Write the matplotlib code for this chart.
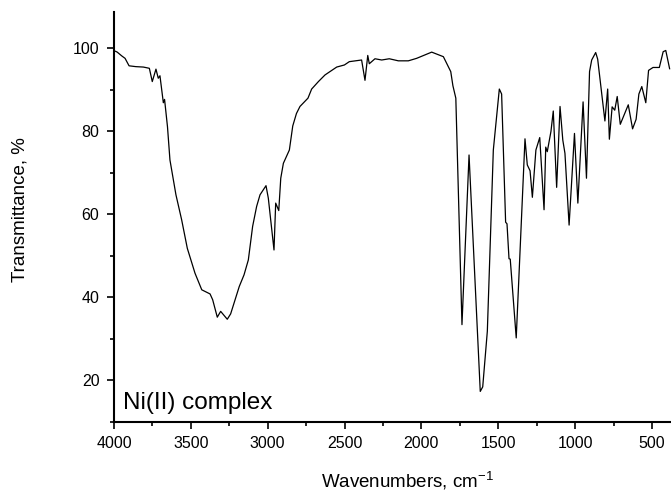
import matplotlib
matplotlib.use("Agg")
import matplotlib.pyplot as plt
from matplotlib.ticker import MultipleLocator

plt.rcParams['font.family'] = ['Liberation Sans', 'DejaVu Sans']
plt.rcParams['mathtext.default'] = 'regular'

wavenumber = [3990, 3979, 3950, 3928, 3902, 3858, 3809, 3770, 3751, 3727, 3712, 3701,
              3679, 3671, 3652, 3636, 3597, 3560, 3523, 3473, 3429, 3375, 3358, 3328,
              3306, 3263, 3241, 3185, 3154, 3126, 3098, 3072, 3050, 3011, 2996, 2959,
              2948, 2928, 2915, 2898, 2859, 2837, 2813, 2790, 2738, 2714, 2670, 2627,
              2551, 2501, 2469, 2389, 2367, 2349, 2339, 2302, 2258, 2209, 2150, 2085,
              2031, 1933, 1857, 1809, 1795, 1776, 1736, 1690, 1617, 1601, 1571, 1532,
              1493, 1478, 1452, 1443, 1430, 1422, 1383, 1326, 1311, 1293, 1278, 1255,
              1230, 1202, 1191, 1181, 1157, 1142, 1120, 1098, 1080, 1066, 1039, 1004,
              982, 948, 926, 906, 892, 866, 853, 806, 788, 777, 759, 742, 726, 706,
              654, 626, 603, 585, 566, 540, 522, 493, 452, 427, 410, 385]
transmittance = [99.3, 99.1, 98.2, 97.6, 95.8, 95.6, 95.5, 95.2, 92.0, 95.0, 92.8, 93.4,
                 86.9, 87.7, 81.1, 73.1, 64.7, 58.7, 51.8, 45.8, 41.8, 40.8, 39.4, 35.2,
                 36.6, 34.7, 36.0, 42.6, 45.4, 49.0, 57.1, 61.9, 64.7, 66.9, 63.9, 51.4,
                 62.7, 60.9, 68.7, 72.3, 75.5, 81.3, 84.3, 86.0, 88.0, 90.2, 92.0, 93.6,
                 95.5, 96.0, 96.8, 97.2, 92.3, 98.3, 96.3, 97.5, 97.2, 97.5, 97.0, 97.0,
                 97.6, 99.1, 98.0, 94.4, 91.0, 88.0, 33.4, 74.3, 17.3, 18.4, 31.8, 75.5,
                 90.2, 89.0, 58.1, 57.7, 49.3, 49.2, 30.2, 78.2, 71.9, 70.5, 64.1, 75.5,
                 78.5, 61.1, 76.2, 75.1, 80.0, 84.9, 66.5, 86.0, 77.9, 74.7, 57.4, 79.5,
                 62.7, 87.1, 68.7, 94.4, 97.2, 99.0, 97.4, 82.5, 90.2, 78.1, 85.9, 85.1, 88.4, 81.7,
                 86.4, 80.6, 82.9, 89.0, 90.8, 86.9, 94.7, 95.4, 95.4, 99.2, 99.5, 95.1]

x_ticks = [4000, 3500, 3000, 2500, 2000, 1500, 1000, 500]
y_ticks = [20, 40, 60, 80, 100]

fig = plt.figure(figsize=(6.71, 4.91), dpi=100)
ax = fig.add_axes([114/671, 1 - 421.7/491, 1 - 114/671, (421.7 - 12.3)/491])
ax.plot(wavenumber, transmittance, color='black', lw=0.9)

ax.set_xlim(4000, 376)
ax.set_ylim(10, 108.7)
ax.set_xticks(x_ticks)
ax.set_yticks(y_ticks)
ax.xaxis.set_minor_locator(MultipleLocator(250))
ax.yaxis.set_minor_locator(MultipleLocator(10))
ax.tick_params(which='major', direction='out', length=5, width=1.2, labelsize=11.5)
ax.tick_params(axis='y', which='major', pad=5.5)
ax.tick_params(axis='x', which='major', pad=5)
ax.tick_params(which='minor', direction='out', length=3, width=1.2)
for s in ['top', 'right']:
    ax.spines[s].set_visible(False)
for s in ['left', 'bottom']:
    ax.spines[s].set_linewidth(1.5)

fig.text(123/671, 1 - 408.5/491, 'Ni(II) complex', fontsize=17.5, ha='left', va='baseline')
fig.text(20/671, 1 - 210/491, 'Transmittance, %', fontsize=13.5, rotation=90,
         ha='center', va='center')
fig.text(407/671, 1 - 487.5/491, 'Wavenumbers, cm$^{-1}$', fontsize=13.5,
         ha='center', va='baseline')

fig.savefig('out.png', dpi=100)
